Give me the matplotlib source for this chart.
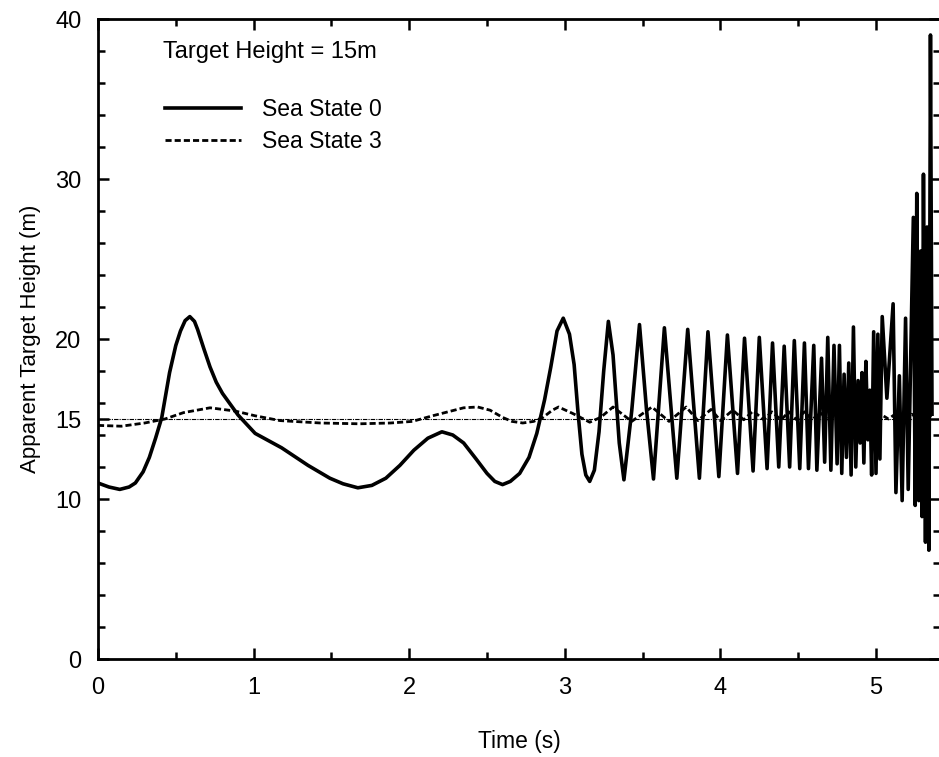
import matplotlib
matplotlib.use("Agg")
import matplotlib.pyplot as plt
from matplotlib.ticker import MultipleLocator, FixedLocator

plt.rcParams['font.family'] = ['Liberation Sans', 'DejaVu Sans']

# Sea State 0 (solid)
t_ss0 = [0.00, 0.07, 0.14, 0.20, 0.24, 0.29, 0.33, 0.37, 0.41, 0.46, 0.50, 0.53, 0.56, 0.59,
         0.62, 0.64, 0.68, 0.72, 0.76, 0.80, 0.90, 1.01, 1.18, 1.35, 1.49, 1.575, 1.67,
         1.76, 1.85, 1.94, 2.03, 2.12, 2.21, 2.28, 2.35, 2.43, 2.50, 2.55, 2.60, 2.65,
         2.71, 2.77, 2.82, 2.87, 2.91, 2.95, 2.99, 3.03, 3.06, 3.085, 3.11, 3.135, 3.16,
         3.19, 3.22, 3.25, 3.28, 3.31, 3.35, 3.38, 3.43,
         3.48, 3.525, 3.57, 3.64, 3.72, 3.79, 3.865, 3.92, 3.99, 4.045, 4.11, 4.155, 4.21,
         4.25, 4.30, 4.335, 4.375, 4.41, 4.445, 4.475, 4.51, 4.54, 4.566, 4.60, 4.62,
         4.65, 4.67, 4.69, 4.71, 4.73, 4.75, 4.765, 4.78, 4.795, 4.81, 4.825, 4.84,
         4.855, 4.87, 4.885, 4.898, 4.91, 4.922, 4.935, 4.948, 4.96, 4.972, 4.985,
         5.00, 5.012, 5.025, 5.04, 5.07, 5.11, 5.128, 5.15, 5.168, 5.19, 5.207,
         5.24, 5.252, 5.262, 5.275, 5.287, 5.296, 5.305, 5.318, 5.328, 5.34, 5.35, 5.36]
y_ss0 = [11.0, 10.75, 10.6, 10.75, 11.0, 11.7, 12.6, 13.8, 15.1, 17.9, 19.6, 20.5, 21.15, 21.4,
         21.1, 20.6, 19.4, 18.25, 17.3, 16.6, 15.25, 14.1, 13.2, 12.1, 11.3, 10.95, 10.7,
         10.85, 11.3, 12.1, 13.05, 13.8, 14.2, 14.0, 13.5, 12.5, 11.6, 11.1, 10.9, 11.1,
         11.6, 12.6, 14.1, 16.2, 18.25, 20.5, 21.3, 20.3, 18.4, 15.4, 12.8, 11.5, 11.1,
         11.8, 14.2, 18.0, 21.1, 19.0, 13.5, 11.2, 15.5,
         20.9, 15.6, 11.25, 20.7, 11.3, 20.6, 11.3, 20.45, 11.4, 20.25, 11.6, 20.05, 11.75,
         20.1, 11.9, 19.75, 12.0, 19.55, 12.0, 19.9, 11.9, 19.75, 11.9, 19.6, 11.8,
         18.8, 12.3, 20.1, 11.8, 19.6, 12.2, 19.6, 11.6, 17.8, 12.6, 18.5, 11.5,
         20.75, 12.0, 17.4, 13.5, 17.9, 12.25, 18.6, 13.7, 16.8, 11.5, 20.45,
         11.6, 20.3, 12.5, 21.4, 16.3, 22.2, 10.4, 17.7, 9.9, 21.3, 10.6,
         27.6, 9.6, 29.1, 9.9, 25.5, 8.9, 30.3, 7.3, 27.0, 6.8, 39.0, 15.3]

# Sea State 3 (dashed)
t_ss3 = [0.00, 0.15, 0.30, 0.43, 0.55, 0.72, 0.88, 1.01, 1.17, 1.43, 1.68, 1.88, 2.02,
         2.15, 2.25, 2.35, 2.44, 2.52, 2.60, 2.66, 2.73, 2.80, 2.86, 2.92, 2.96, 3.05,
         3.16, 3.23, 3.31, 3.43, 3.56, 3.67, 3.78, 3.855, 3.94, 4.00, 4.08, 4.15, 4.21,
         4.28, 4.33, 4.39, 4.44, 4.49, 4.54, 4.59, 4.64, 4.69, 4.73, 4.78, 4.83, 4.88,
         4.93, 4.98, 5.03, 5.08, 5.13, 5.18, 5.23, 5.28, 5.33, 5.36]
y_ss3 = [14.6, 14.55, 14.75, 15.0, 15.4, 15.7, 15.5, 15.2, 14.9, 14.75, 14.7, 14.75, 14.85,
         15.2, 15.45, 15.7, 15.75, 15.55, 15.1, 14.85, 14.75, 14.85, 15.1, 15.55, 15.75, 15.35,
         14.8, 15.1, 15.75, 14.85, 15.75, 14.85, 15.75, 14.9, 15.6, 14.9, 15.55, 14.95, 15.5,
         14.95, 15.45, 14.95, 15.45, 14.95, 15.45, 14.95, 15.4, 15.0, 15.4, 15.0, 15.4, 15.0,
         15.35, 14.9, 15.3, 15.0, 15.35, 14.85, 15.3, 14.95, 15.3, 15.1]

target_height = 15
y_major = [0, 10, 15, 20, 30, 40]

fig = plt.figure(figsize=(9.39, 7.57), dpi=100)
ax = fig.add_axes([98 / 939, 98 / 757, 842 / 939, 640 / 757])

ax.axhline(target_height, color='black', lw=0.8, ls=(0, (4, 1, 1, 1)), zorder=1)
l0, = ax.plot(t_ss0, y_ss0, color='black', lw=2.6, solid_joinstyle='round')
l3, = ax.plot(t_ss3, y_ss3, color='black', lw=2.0, ls=(0, (2.2, 1.1)))

ax.set_xlim(0, 842 / 155.6)
ax.set_ylim(0, 40)
ax.xaxis.set_major_locator(MultipleLocator(1))
ax.xaxis.set_minor_locator(MultipleLocator(0.5))
ax.yaxis.set_major_locator(FixedLocator(y_major))
ax.yaxis.set_minor_locator(MultipleLocator(2))

for s in ax.spines.values():
    s.set_linewidth(2.0)
ax.tick_params(which='both', direction='in', top=True, right=True, width=1.8,
               labelsize=17)
ax.tick_params(which='major', length=8)
ax.tick_params(which='minor', length=5)
ax.tick_params(axis='y', pad=12)
ax.tick_params(axis='x', pad=13)

ax.set_xlabel('Time (s)', fontsize=16.5, labelpad=22)
ax.set_ylabel('Apparent Target Height (m)', fontsize=16, labelpad=10)

ax.text(0.077, 0.939, 'Target Height = 15m', transform=ax.transAxes,
        fontsize=17, va='baseline', ha='left')
ax.legend([l0, l3], ['Sea State 0', 'Sea State 3'], loc='upper left',
          bbox_to_anchor=(0.0796, 0.877), frameon=False, fontsize=16.5,
          borderpad=0, borderaxespad=0, handlelength=3.3, handletextpad=0.95,
          labelspacing=0.42)

fig.savefig('out.png', dpi=100)
